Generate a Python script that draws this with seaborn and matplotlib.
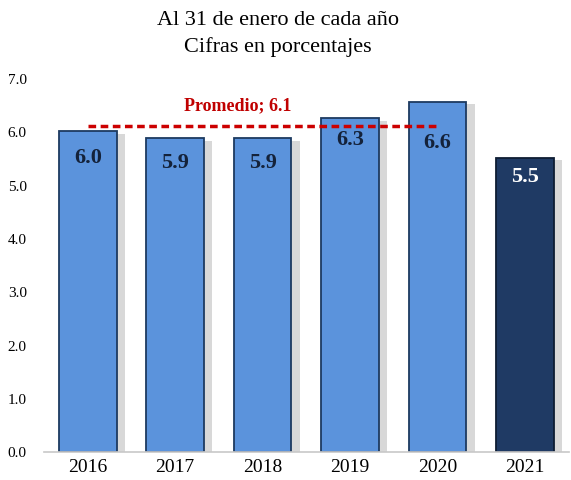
import matplotlib
matplotlib.use("Agg")
import matplotlib.pyplot as plt
import matplotlib.patheffects as pe
import seaborn as sns
import pandas as pd

years = ["2016", "2017", "2018", "2019", "2020", "2021"]
heights = [6.02, 5.89, 5.89, 6.27, 6.58, 5.53]
labels = ["6.0", "5.9", "5.9", "6.3", "6.6", "5.5"]
avg_value = 6.13
avg_label = "Promedio; 6.1"
yticks = [0.0, 1.0, 2.0, 3.0, 4.0, 5.0, 6.0, 7.0]

# style: how far below each bar top its label sits (data units)
label_drop = [0.50, 0.47, 0.47, 0.42, 0.78, 0.37]

sns.set_theme(style="white")
plt.rcParams["font.family"] = ["Liberation Serif", "DejaVu Serif"]
plt.rcParams["text.color"] = "black"
plt.rcParams["xtick.color"] = "black"
plt.rcParams["ytick.color"] = "black"

df = pd.DataFrame({"year": years, "value": heights})
light = "#5b93dc"
dark = "#1f3a64"
palette = [light] * 5 + [dark]

fig = plt.figure(figsize=(5.71, 4.8), dpi=100)
ax = fig.add_axes([0.077, 0.058, 0.919, 0.777])
sns.barplot(data=df, x="year", y="value", hue="year", palette=palette,
            legend=False, width=0.66, ax=ax, saturation=1)

for i, p in enumerate(ax.patches):
    p.set_edgecolor("#1d3a60" if i < 5 else "#0e1d33")
    p.set_linewidth(1.3)
    p.set_path_effects([pe.SimplePatchShadow(offset=(6, -2), shadow_rgbFace="#909090", alpha=0.35),
                        pe.Normal()])

for i, (h, lab) in enumerate(zip(heights, labels)):
    col = "white" if i == 5 else "#14223a"
    ax.text(i, h - label_drop[i], lab, ha="center", va="center", fontsize=16,
            fontweight="bold", color=col)

ax.plot([0, 4], [avg_value, avg_value], color="#cc0000", lw=2.5,
        ls=(0, (2.2, 1.3)), zorder=5)
ax.text(1.71, 6.5, avg_label, ha="center", va="center", fontsize=13,
        fontweight="bold", color="#c00000")

ax.set_ylim(0, 7)
ax.set_xlim(-0.5, 5.5)
ax.set_yticks(yticks)
ax.set_yticklabels([f"{t:.1f}" for t in yticks], fontsize=11, ha="left")
ax.tick_params(axis="y", pad=26, length=0)
ax.tick_params(axis="x", length=0, labelsize=14, pad=5)
ax.set_xlabel("")
ax.set_ylabel("")
for s in ["top", "right", "left"]:
    ax.spines[s].set_visible(False)
ax.spines["bottom"].set_color("#c8c8c8")
ax.spines["bottom"].set_linewidth(1.2)

fig.text(0.487, 0.958, "Al 31 de enero de cada año", ha="center", va="center", fontsize=16)
fig.text(0.487, 0.902, "Cifras en porcentajes", ha="center", va="center", fontsize=16)

fig.savefig("out.png", dpi=100)
